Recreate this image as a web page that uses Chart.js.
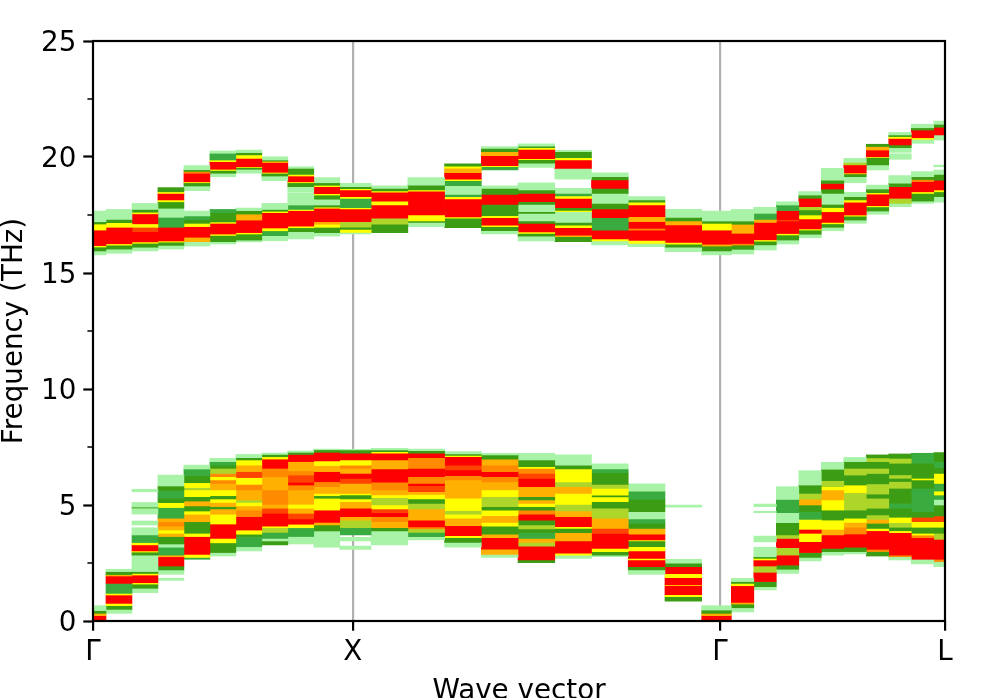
<!DOCTYPE html>
<html><head><meta charset="utf-8">
<style>html,body{margin:0;padding:0;background:#fff;overflow:hidden}canvas{display:block}</style>
<script src="https://cdn.jsdelivr.net/npm/chart.js@4"></script>
</head><body><canvas id="c" width="997" height="698"></canvas>
<script>
// Wave-vector path: sampled k points and labelled points
const kPoints = [0,.1,.2,.3,.4,.5,.6,.7,.8,.9,1,1.1414,1.2828,1.4243,1.5657,1.7071,1.8485,1.9899,2.1314,2.2728,2.4142,2.5008,2.5874,2.674,2.7606,2.8472,2.9338,3.0204,3.107,3.1936,3.2802];
const kTicks = [0,1,2.4142,3.2802];
const kTickLabels = ['Γ','X','Γ','L'];
const freqTicks = [0,5,10,15,20,25];
const freqMinorTicks = [2.5,7.5,12.5,17.5,22.5];
// Intensity classes, low to high
const intensityColors = [null,'#a9f3a9','#3aab3e','#3c9d14','#aed62a','#ffff00','#ffb000','#ff8a00','#ff4400','#ff0000'];
// Each column: frequency edge, intensity, frequency edge, intensity, ... (0 = empty)
const col00=[0,9,.23,6,.33,3,.45,1,.66,0,15.78,1,15.95,3,16.12,5,16.18,9,16.85,5,17.11,3,17.21,1,17.67];
const col01=[.33,1,.50,3,.66,5,.76,9,1.12,5,1.19,2,1.62,9,1.94,6,2.0,3,2.13,1,2.23,0,15.85,1,16.03,3,16.2,5,16.26,9,16.97,5,17.17,3,17.31,1,17.74];
const col02=[1.22,1,1.41,3,1.59,5,1.65,9,1.98,5,2.05,3,2.13,1,2.84,3,2.97,5,3.02,9,3.28,5,3.38,2,3.71,1,4.02,0,4.14,1,4.31,0,4.61,1,4.87,3,4.91,1,5.11,0,5.57,1,5.68,0,15.95,1,16.11,3,16.28,5,16.34,9,16.78,8,16.97,5,17.12,9,17.55,5,17.62,3,17.74,1,18.0];
const col03=[1.75,1,1.84,0,2.01,1,2.20,3,2.37,9,2.77,6,2.84,2,3.18,1,3.32,3,3.64,6,3.78,5,3.92,6,4.09,7,4.28,6,4.43,2,4.89,5,5.10,3,5.29,2,5.62,3,5.82,1,6.29,0,16.03,1,16.19,3,16.33,5,16.38,9,16.97,2,17.40,1,17.79,3,18.07,5,18.15,9,18.43,5,18.5,3,18.68];
const col04=[2.66,2,2.74,5,2.87,9,3.64,5,3.78,3,4.28,6,4.60,5,4.74,3,4.96,6,5.17,3,5.36,5,5.65,4,5.75,5,5.96,3,6.26,2,6.55,1,6.72,0,16.16,1,16.35,6,16.54,9,17.0,5,17.14,3,17.3,2,17.46,1,17.67,0,18.55,1,18.75,3,18.89,5,18.93,9,19.30,7,19.38,3,19.45,1,19.63];
const col05=[2.80,1,2.95,3,3.37,5,3.56,9,4.18,5,4.60,6,4.83,3,4.93,6,5.11,5,5.26,3,5.40,5,5.65,6,5.93,7,6.08,5,6.22,7,6.36,4,6.58,3,6.72,2,6.87,1,7.01,0,16.25,1,16.35,3,16.62,5,16.68,9,17.14,5,17.2,3,17.60,2,17.74,0,19.15,1,19.30,3,19.42,5,19.47,9,19.80,5,19.87,2,20.16,1,20.26];
const col06=[3.02,1,3.2,2,3.64,3,3.74,5,3.92,9,4.5,7,4.78,6,4.96,5,5.11,4,5.22,6,5.65,7,5.89,5,6.18,8,6.44,6,6.72,5,6.94,3,7.04,1,7.18,0,16.34,1,16.42,3,16.68,5,16.74,9,17.28,6,17.54,3,17.69,1,17.80,0,19.30,1,19.47,3,19.55,5,19.58,9,19.94,5,20.09,3,20.19,1,20.30];
const col07=[3.28,3,3.45,1,3.56,2,3.82,4,4.02,5,4.09,9,4.64,8,4.86,6,5.03,7,5.65,6,6.22,7,6.58,9,6.98,5,7.08,3,7.18,1,7.24,0,16.39,1,16.61,2,16.82,5,16.94,9,17.60,5,17.66,3,17.74,1,18.0,0,18.98,1,19.18,3,19.3,5,19.34,9,19.76,6,19.82,3,19.87,1,20.01];
const col08=[3.32,1,3.64,2,4.02,5,4.17,9,4.40,8,4.64,6,4.86,5,5.03,6,5.65,7,5.86,9,5.98,8,6.29,7,6.47,6,6.87,9,7.18,3,7.27,1,7.33,0,16.47,1,16.78,3,16.95,5,17.02,9,17.69,5,17.74,2,17.93,1,18.46,0,18.5,1,18.72,3,18.89,5,18.93,9,19.18,5,19.25,3,19.51,1,19.58];
const col09=[3.18,1,3.88,3,4.14,6,4.25,9,4.78,5,5.29,3,5.40,5,5.5,6,5.79,7,6.0,9,6.44,6,6.7,5,6.9,9,7.27,3,7.38,1,7.41,0,16.59,1,16.74,3,16.97,5,17.1,6,17.21,9,17.79,5,17.84,3,17.93,1,18.18,3,18.36,5,18.42,9,18.72,5,18.78,3,18.89,1,19.11];
const col10=[3.09,1,3.23,0,3.45,1,3.61,0,3.71,2,4.02,4,4.35,6,4.5,9,4.86,6,5.14,5,5.26,3,5.43,5,5.5,6,5.93,8,6.15,9,6.36,6,6.58,7,6.72,5,6.94,9,7.23,3,7.37,1,7.40,0,16.68,1,16.75,5,16.88,3,16.98,4,17.21,9,17.76,5,17.82,2,18.22,5,18.29,9,18.58,5,18.64,3,18.72,1,18.87];
const col11=[3.28,1,3.88,3,4.02,6,4.28,7,4.5,9,4.67,8,4.83,5,5.0,4,5.32,5,5.43,6,5.65,7,5.98,9,6.55,6,6.94,9,7.23,5,7.30,3,7.37,1,7.44,0,16.74,3,17.10,4,17.36,9,17.93,5,18.1,9,18.48,5,18.54,3,18.65,1,18.76];
const col12=[3.49,1,3.64,2,3.82,4,3.97,7,4.05,9,4.35,6,4.83,4,5.07,3,5.26,5,5.46,6,5.57,8,5.83,9,5.93,7,6.22,9,6.58,7,7.04,9,7.23,3,7.34,1,7.41,0,17.0,1,17.18,3,17.24,5,17.5,9,18.53,5,18.58,3,18.79,1,19.11];
const col13=[3.18,1,3.39,3,3.59,5,3.68,9,4.11,6,4.43,5,4.6,4,4.76,5,5.29,6,6.08,7,6.26,9,6.51,8,6.72,9,7.08,5,7.14,3,7.20,1,7.30,0,16.95,3,17.36,5,17.42,9,18.19,5,18.29,2,18.39,1,18.76,2,18.98,5,19.04,9,19.32,6,19.52,5,19.6,3,19.71];
const col14=[2.74,1,2.87,6,3.1,9,3.59,6,3.74,3,4.09,5,4.25,6,4.54,5,4.78,3,4.93,4,5.36,5,5.65,6,6.0,7,6.22,9,6.44,7,6.72,6,6.98,3,7.16,1,7.23,0,16.68,1,16.82,3,17.0,5,17.06,9,17.39,5,17.47,3,17.96,9,18.39,3,18.65,1,18.76,0,19.44,2,19.58,5,19.63,9,20.06,6,20.23,3,20.37,1,20.45];
const col15=[2.51,3,2.63,9,3.23,4,3.39,6,3.56,2,3.82,3,3.97,4,4.14,3,4.35,9,4.6,7,4.78,3,4.93,5,5.07,6,5.22,3,5.36,6,5.79,9,6.15,8,6.36,7,6.58,5,6.65,3,6.94,1,7.23,0,16.38,1,16.59,3,16.71,5,16.77,9,17.14,3,17.24,1,17.57,3,17.64,1,17.96,3,18.07,9,18.43,3,18.58,1,18.89,0,19.55,1,19.73,3,19.88,5,19.93,9,20.33,5,20.4,3,20.47,1,20.57];
const col16=[2.70,1,2.84,5,2.92,9,3.45,6,3.81,3,3.99,5,4.07,9,4.5,6,4.74,4,5.03,5,5.5,6,5.79,4,6.0,5,6.55,3,6.72,1,7.16,0,16.35,3,16.57,6,16.63,9,16.95,5,17.06,3,17.18,1,17.64,5,17.7,3,17.82,9,18.22,5,18.32,2,18.43,1,18.65,0,19.04,1,19.51,9,19.87,5,19.97,3,20.23,1,20.29];
const col17=[2.77,1,2.84,3,2.99,5,3.13,9,3.78,8,3.99,6,4.43,4,4.86,3,5.14,5,5.35,3,5.42,5,5.72,4,5.89,3,6.39,2,6.55,1,6.77,0,16.21,1,16.38,5,16.47,9,16.85,2,17.39,9,17.76,3,18.0,1,18.43,3,18.65,9,19.01,3,19.15,1,19.32];
const col18=[2.01,1,2.20,3,2.34,9,2.63,5,2.70,9,3.02,5,3.20,3,3.45,5,3.5,9,3.74,6,3.99,3,4.21,2,4.40,1,4.71,3,5.24,2,5.60,1,5.91,0,16.14,1,16.28,5,16.4,9,16.85,7,16.92,9,17.21,6,17.43,9,17.93,5,18.05,3,18.15,1,18.29];
const col19=[.86,3,1.05,5,1.13,9,1.52,5,1.56,9,1.87,5,2.04,9,2.34,3,2.49,1,2.66,0,4.91,1,5.0,0,15.92,1,16.11,3,16.24,5,16.32,9,17.07,6,17.24,3,17.40,1,17.74];
const col20=[0,9,.23,6,.33,3,.47,1,.66,0,15.78,1,15.95,3,16.16,6,16.24,9,16.85,5,17.14,3,17.24,1,17.67];
const col21=[.39,1,.57,3,.73,6,.80,9,1.52,5,1.62,3,1.70,1,1.84,0,15.82,1,16.02,3,16.2,7,16.27,9,16.71,6,17.10,3,17.24,1,17.74];
const col22=[1.34,1,1.48,3,1.70,9,2.10,4,2.37,9,2.63,5,2.70,3,2.77,1,3.18,0,3.41,1,3.66,0,4.67,1,4.73,0,4.93,1,5.04,0,15.99,1,16.21,3,16.37,5,16.43,9,17.18,6,17.31,2,17.57,1,17.83];
const col23=[2.05,1,2.23,3,2.41,9,2.84,4,3.16,9,3.56,4,3.71,3,4.24,1,4.67,2,5.24,1,5.79,0,16.25,1,16.42,3,16.64,5,16.7,9,17.24,8,17.3,9,17.69,2,17.93,1,18.07];
const col24=[2.59,1,2.74,3,2.95,9,3.42,5,3.78,9,3.95,5,4.38,2,4.71,3,5.0,6,5.25,4,5.5,3,5.86,1,6.48,0,16.52,1,16.67,3,16.85,5,16.9,9,17.33,5,17.5,3,17.72,4,17.86,9,18.22,3,18.36,1,18.51];
const col25=[2.84,1,2.99,3,3.13,9,3.71,6,3.95,5,4.35,3,4.78,5,5.22,6,5.65,5,5.79,4,6.05,3,6.54,1,6.84,0,16.82,1,16.97,3,17.12,5,17.18,9,17.64,5,17.82,3,17.96,1,18.43,3,18.62,9,18.86,3,19.0,1,19.51];
const col26=[2.89,1,2.99,3,3.18,9,3.75,7,4.04,6,4.25,5,4.43,3,4.78,4,5.53,5,5.86,3,6.29,4,6.58,3,6.87,1,7.05,0,17.14,1,17.28,3,17.45,5,17.5,9,18.05,5,18.15,3,18.29,1,18.48,0,18.89,1,19.15,3,19.27,6,19.32,9,19.66,4,19.77,1,19.94];
const col27=[2.80,3,2.99,7,3.09,9,3.89,5,3.99,3,4.21,6,4.38,4,4.57,3,4.86,4,5.29,3,5.47,4,5.91,3,6.36,4,6.58,3,6.87,4,7.03,3,7.16,0,17.53,1,17.67,3,17.85,5,17.9,9,18.4,5,18.46,3,18.62,1,18.79,0,19.44,1,19.66,3,19.98,5,20.01,9,20.30,6,20.45,3,20.55];
const col28=[2.63,1,2.77,7,2.84,9,3.81,5,3.89,3,4.04,4,4.24,5,4.47,3,4.86,2,5.07,3,5.72,4,6.01,3,6.15,4,6.3,3,6.80,4,7.01,3,7.20,0,17.86,1,18.0,4,18.22,9,18.72,3,18.87,1,19.2,0,19.9,1,20.14,0,20.2,1,20.4,3,20.52,9,20.8,5,20.88,3,20.95,1,21.06];
const col29=[2.46,1,2.66,9,3.59,7,3.7,5,3.78,3,4.04,5,4.28,8,4.47,3,4.71,2,5.72,3,6.08,5,6.15,3,6.80,2,7.23,0,18.0,1,18.1,3,18.43,5,18.5,9,18.94,7,19.03,3,19.15,1,19.37,0,20.59,1,20.76,5,20.83,9,21.16,3,21.26,1,21.41];
const col30=[2.34,1,2.56,7,2.66,9,3.52,4,3.78,3,4.04,5,4.28,8,4.53,3,5.0,1,5.24,2,5.43,5,5.6,2,5.93,5,6.36,3,6.6,2,6.87,3,7.26,0,18.05,1,18.29,3,18.5,5,18.58,9,19.0,3,19.25,1,19.44,0,19.58,1,19.65,0,20.73,1,20.95,9,21.28,3,21.41,1,21.55];
const columns=[col00,col01,col02,col03,col04,col05,col06,col07,col08,col09,col10,col11,col12,col13,col14,col15,col16,col17,col18,col19,col20,col21,col22,col23,col24,col25,col26,col27,col28,col29,col30];

const FONT={family:'"DejaVu Sans"',size:27.78};
const PLOT_W=852; // plot box width, used to turn a k span into a bar thickness
const kMax=kTicks[kTicks.length-1];
const datasets=columns.map((col,i)=>{
  const lo=i===0?0:(kPoints[i-1]+kPoints[i])/2;
  const hi=i===kPoints.length-1?kMax:(kPoints[i]+kPoints[i+1])/2;
  const data=[];
  for(let j=1;j<col.length;j+=2){
    if(col[j]>0) data.push({x:(lo+hi)/2,y:[col[j-1],col[j+1]],level:col[j]});
  }
  return {data,stack:'s',barThickness:(hi-lo)*PLOT_W/kMax,borderWidth:0,
    backgroundColor:c=>c.raw?intensityColors[c.raw.level]:'#fff'};
});
const frame={id:'frame',
  beforeDraw(ch){
    // matplotlib centres tick digits slightly lower than canvas "middle"
    ch.scales.y.getLabelItems().forEach(it=>{it.options.translation=[it.options.translation[0],it.options.translation[1]+2.5];});
  },
  afterDatasetsDraw(ch){
    const {ctx,chartArea:a,scales:{y}}=ch;
    ctx.save();
    ctx.strokeStyle='#000';ctx.lineWidth=2.2;
    ctx.strokeRect(a.left,a.top,a.right-a.left,a.bottom-a.top);
    ctx.beginPath();
    freqMinorTicks.forEach(v=>{const p=y.getPixelForValue(v);ctx.moveTo(a.left,p);ctx.lineTo(a.left-5.6,p);});
    ctx.lineWidth=1.67;ctx.stroke();
    ctx.restore();
  }};
new Chart(document.getElementById('c'),{
  type:'bar',
  data:{datasets},
  plugins:[frame],
  options:{
    responsive:false,animation:false,
    layout:{padding:{top:41,right:52,left:0,bottom:0}},
    plugins:{legend:{display:false},tooltip:{enabled:false}},
    scales:{
      x:{type:'linear',min:0,max:kMax,offset:false,
        afterBuildTicks:s=>{s.ticks=kTicks.map(v=>({value:v}));},
        afterFit:s=>{s.height=77;},
        grid:{offset:false,lineWidth:2.2,tickLength:9.7,tickWidth:2.2,tickColor:'#000',
          color:c=>(c.index===1||c.index===2)?'#b0b0b0':'rgba(0,0,0,0)'},
        border:{display:false},
        ticks:{color:'#000',font:FONT,padding:5,autoSkip:false,maxRotation:0,
          callback:(v,i)=>kTickLabels[i]},
        title:{display:true,text:'Wave vector',color:'#000',font:FONT,padding:{top:0,bottom:-10.5}}
      },
      y:{type:'linear',min:0,max:25,stacked:false,
        afterBuildTicks:s=>{s.ticks=freqTicks.map(v=>({value:v}));},
        afterFit:s=>{s.width=93;},
        grid:{drawOnChartArea:false,tickLength:9.7,tickWidth:2.2,tickColor:'#000'},
        border:{display:false},
        ticks:{color:'#000',font:FONT,padding:7},
        title:{display:true,text:'Frequency (THz)',color:'#000',font:FONT,padding:-2}
      }
    }
  }
});
</script></body></html>
